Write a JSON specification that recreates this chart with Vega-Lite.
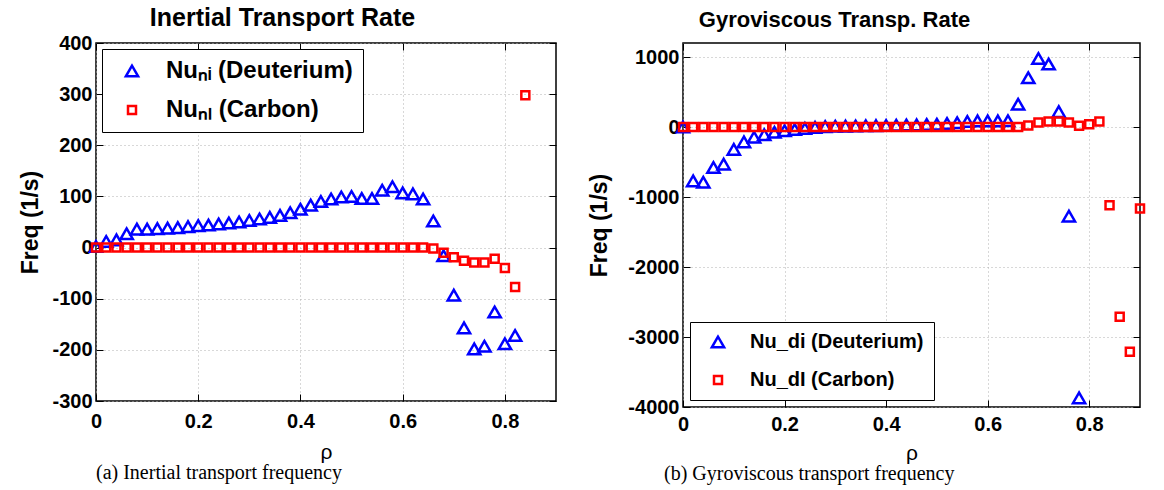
{
  "$schema": "https://vega.github.io/schema/vega-lite/v6.json",
  "background": "white",
  "padding": {"left": 19, "top": 4, "right": 5, "bottom": 5},
  "spacing": 30,
  "config": {
    "font": "Liberation Sans",
    "view": {"stroke": "black", "strokeWidth": 1.5},
    "axis": {
      "labelFont": "Liberation Sans", "labelFontSize": 20, "labelFontWeight": "bold", "labelColor": "black",
      "titleFont": "Liberation Sans", "titleColor": "black",
      "tickColor": "black", "tickSize": -7, "tickWidth": 1, "domain": false,
      "gridColor": "#b0b0b0", "gridDash": [1, 3], "gridWidth": 1,
      "labelFlush": false, "labelOverlap": false
    },
    "axisY": {"titleFontSize": 23, "titleFontWeight": "bold", "titlePadding": 9, "labelPadding": 11},
    "axisX": {"titleFontSize": 21, "titleFontWeight": "normal", "titlePadding": 10, "labelPadding": 17},
    "legend": {
      "fillColor": "white", "strokeColor": "black", "padding": 10,
      "labelFont": "Liberation Sans", "labelFontWeight": "bold", "labelColor": "black",
      "labelLimit": 400, "symbolStrokeWidth": 2.5, "rowPadding": 15, "labelOffset": 22, "symbolOffset": 8
    }
  },
  "datasets": {
    "left": [
      {"rho": 0, "freq": 2, "series": "Nuₙᵢ (Deuterium)"},
      {"rho": 0.02, "freq": 12, "series": "Nuₙᵢ (Deuterium)"},
      {"rho": 0.04, "freq": 15, "series": "Nuₙᵢ (Deuterium)"},
      {"rho": 0.06, "freq": 27, "series": "Nuₙᵢ (Deuterium)"},
      {"rho": 0.08, "freq": 36, "series": "Nuₙᵢ (Deuterium)"},
      {"rho": 0.1, "freq": 36, "series": "Nuₙᵢ (Deuterium)"},
      {"rho": 0.12, "freq": 37, "series": "Nuₙᵢ (Deuterium)"},
      {"rho": 0.14, "freq": 38, "series": "Nuₙᵢ (Deuterium)"},
      {"rho": 0.16, "freq": 39, "series": "Nuₙᵢ (Deuterium)"},
      {"rho": 0.18, "freq": 41, "series": "Nuₙᵢ (Deuterium)"},
      {"rho": 0.2, "freq": 43, "series": "Nuₙᵢ (Deuterium)"},
      {"rho": 0.22, "freq": 44, "series": "Nuₙᵢ (Deuterium)"},
      {"rho": 0.24, "freq": 46, "series": "Nuₙᵢ (Deuterium)"},
      {"rho": 0.26, "freq": 48, "series": "Nuₙᵢ (Deuterium)"},
      {"rho": 0.28, "freq": 50, "series": "Nuₙᵢ (Deuterium)"},
      {"rho": 0.3, "freq": 53, "series": "Nuₙᵢ (Deuterium)"},
      {"rho": 0.32, "freq": 56, "series": "Nuₙᵢ (Deuterium)"},
      {"rho": 0.34, "freq": 59, "series": "Nuₙᵢ (Deuterium)"},
      {"rho": 0.36, "freq": 63, "series": "Nuₙᵢ (Deuterium)"},
      {"rho": 0.38, "freq": 68, "series": "Nuₙᵢ (Deuterium)"},
      {"rho": 0.4, "freq": 75, "series": "Nuₙᵢ (Deuterium)"},
      {"rho": 0.42, "freq": 83, "series": "Nuₙᵢ (Deuterium)"},
      {"rho": 0.44, "freq": 90, "series": "Nuₙᵢ (Deuterium)"},
      {"rho": 0.46, "freq": 95, "series": "Nuₙᵢ (Deuterium)"},
      {"rho": 0.48, "freq": 99, "series": "Nuₙᵢ (Deuterium)"},
      {"rho": 0.5, "freq": 100, "series": "Nuₙᵢ (Deuterium)"},
      {"rho": 0.52, "freq": 96, "series": "Nuₙᵢ (Deuterium)"},
      {"rho": 0.54, "freq": 96, "series": "Nuₙᵢ (Deuterium)"},
      {"rho": 0.56, "freq": 112, "series": "Nuₙᵢ (Deuterium)"},
      {"rho": 0.58, "freq": 119, "series": "Nuₙᵢ (Deuterium)"},
      {"rho": 0.6, "freq": 107, "series": "Nuₙᵢ (Deuterium)"},
      {"rho": 0.62, "freq": 105, "series": "Nuₙᵢ (Deuterium)"},
      {"rho": 0.64, "freq": 95, "series": "Nuₙᵢ (Deuterium)"},
      {"rho": 0.66, "freq": 52, "series": "Nuₙᵢ (Deuterium)"},
      {"rho": 0.68, "freq": -16, "series": "Nuₙᵢ (Deuterium)"},
      {"rho": 0.7, "freq": -93, "series": "Nuₙᵢ (Deuterium)"},
      {"rho": 0.72, "freq": -157, "series": "Nuₙᵢ (Deuterium)"},
      {"rho": 0.74, "freq": -198, "series": "Nuₙᵢ (Deuterium)"},
      {"rho": 0.76, "freq": -193, "series": "Nuₙᵢ (Deuterium)"},
      {"rho": 0.78, "freq": -126, "series": "Nuₙᵢ (Deuterium)"},
      {"rho": 0.8, "freq": -188, "series": "Nuₙᵢ (Deuterium)"},
      {"rho": 0.82, "freq": -172, "series": "Nuₙᵢ (Deuterium)"},
      {"rho": 0, "freq": 0, "series": "Nuₙₗ (Carbon)"},
      {"rho": 0.02, "freq": 0, "series": "Nuₙₗ (Carbon)"},
      {"rho": 0.04, "freq": 0, "series": "Nuₙₗ (Carbon)"},
      {"rho": 0.06, "freq": 0, "series": "Nuₙₗ (Carbon)"},
      {"rho": 0.08, "freq": 0, "series": "Nuₙₗ (Carbon)"},
      {"rho": 0.1, "freq": 0, "series": "Nuₙₗ (Carbon)"},
      {"rho": 0.12, "freq": 0, "series": "Nuₙₗ (Carbon)"},
      {"rho": 0.14, "freq": 0, "series": "Nuₙₗ (Carbon)"},
      {"rho": 0.16, "freq": 0, "series": "Nuₙₗ (Carbon)"},
      {"rho": 0.18, "freq": 0, "series": "Nuₙₗ (Carbon)"},
      {"rho": 0.2, "freq": 0, "series": "Nuₙₗ (Carbon)"},
      {"rho": 0.22, "freq": 0, "series": "Nuₙₗ (Carbon)"},
      {"rho": 0.24, "freq": 0, "series": "Nuₙₗ (Carbon)"},
      {"rho": 0.26, "freq": 0, "series": "Nuₙₗ (Carbon)"},
      {"rho": 0.28, "freq": 0, "series": "Nuₙₗ (Carbon)"},
      {"rho": 0.3, "freq": 0, "series": "Nuₙₗ (Carbon)"},
      {"rho": 0.32, "freq": 0, "series": "Nuₙₗ (Carbon)"},
      {"rho": 0.34, "freq": 0, "series": "Nuₙₗ (Carbon)"},
      {"rho": 0.36, "freq": 0, "series": "Nuₙₗ (Carbon)"},
      {"rho": 0.38, "freq": 0, "series": "Nuₙₗ (Carbon)"},
      {"rho": 0.4, "freq": 0, "series": "Nuₙₗ (Carbon)"},
      {"rho": 0.42, "freq": 0, "series": "Nuₙₗ (Carbon)"},
      {"rho": 0.44, "freq": 0, "series": "Nuₙₗ (Carbon)"},
      {"rho": 0.46, "freq": 0, "series": "Nuₙₗ (Carbon)"},
      {"rho": 0.48, "freq": 0, "series": "Nuₙₗ (Carbon)"},
      {"rho": 0.5, "freq": 0, "series": "Nuₙₗ (Carbon)"},
      {"rho": 0.52, "freq": 0, "series": "Nuₙₗ (Carbon)"},
      {"rho": 0.54, "freq": 0, "series": "Nuₙₗ (Carbon)"},
      {"rho": 0.56, "freq": 0, "series": "Nuₙₗ (Carbon)"},
      {"rho": 0.58, "freq": 0, "series": "Nuₙₗ (Carbon)"},
      {"rho": 0.6, "freq": 0, "series": "Nuₙₗ (Carbon)"},
      {"rho": 0.62, "freq": 0, "series": "Nuₙₗ (Carbon)"},
      {"rho": 0.64, "freq": 0, "series": "Nuₙₗ (Carbon)"},
      {"rho": 0.66, "freq": -2, "series": "Nuₙₗ (Carbon)"},
      {"rho": 0.68, "freq": -10, "series": "Nuₙₗ (Carbon)"},
      {"rho": 0.7, "freq": -19, "series": "Nuₙₗ (Carbon)"},
      {"rho": 0.72, "freq": -26, "series": "Nuₙₗ (Carbon)"},
      {"rho": 0.74, "freq": -29, "series": "Nuₙₗ (Carbon)"},
      {"rho": 0.76, "freq": -29, "series": "Nuₙₗ (Carbon)"},
      {"rho": 0.78, "freq": -22, "series": "Nuₙₗ (Carbon)"},
      {"rho": 0.8, "freq": -40, "series": "Nuₙₗ (Carbon)"},
      {"rho": 0.82, "freq": -77, "series": "Nuₙₗ (Carbon)"},
      {"rho": 0.84, "freq": 298, "series": "Nuₙₗ (Carbon)"}
    ],
    "right": [
      {"rho": 0, "freq": 0, "series": "Nu_di (Deuterium)"},
      {"rho": 0.02, "freq": -770, "series": "Nu_di (Deuterium)"},
      {"rho": 0.04, "freq": -790, "series": "Nu_di (Deuterium)"},
      {"rho": 0.06, "freq": -579, "series": "Nu_di (Deuterium)"},
      {"rho": 0.08, "freq": -531, "series": "Nu_di (Deuterium)"},
      {"rho": 0.1, "freq": -320, "series": "Nu_di (Deuterium)"},
      {"rho": 0.12, "freq": -213, "series": "Nu_di (Deuterium)"},
      {"rho": 0.14, "freq": -147, "series": "Nu_di (Deuterium)"},
      {"rho": 0.16, "freq": -111, "series": "Nu_di (Deuterium)"},
      {"rho": 0.18, "freq": -76, "series": "Nu_di (Deuterium)"},
      {"rho": 0.2, "freq": -52, "series": "Nu_di (Deuterium)"},
      {"rho": 0.22, "freq": -35, "series": "Nu_di (Deuterium)"},
      {"rho": 0.24, "freq": -20, "series": "Nu_di (Deuterium)"},
      {"rho": 0.26, "freq": -5, "series": "Nu_di (Deuterium)"},
      {"rho": 0.28, "freq": 5, "series": "Nu_di (Deuterium)"},
      {"rho": 0.3, "freq": 10, "series": "Nu_di (Deuterium)"},
      {"rho": 0.32, "freq": 12, "series": "Nu_di (Deuterium)"},
      {"rho": 0.34, "freq": 15, "series": "Nu_di (Deuterium)"},
      {"rho": 0.36, "freq": 18, "series": "Nu_di (Deuterium)"},
      {"rho": 0.38, "freq": 20, "series": "Nu_di (Deuterium)"},
      {"rho": 0.4, "freq": 22, "series": "Nu_di (Deuterium)"},
      {"rho": 0.42, "freq": 25, "series": "Nu_di (Deuterium)"},
      {"rho": 0.44, "freq": 28, "series": "Nu_di (Deuterium)"},
      {"rho": 0.46, "freq": 30, "series": "Nu_di (Deuterium)"},
      {"rho": 0.48, "freq": 35, "series": "Nu_di (Deuterium)"},
      {"rho": 0.5, "freq": 40, "series": "Nu_di (Deuterium)"},
      {"rho": 0.52, "freq": 50, "series": "Nu_di (Deuterium)"},
      {"rho": 0.54, "freq": 60, "series": "Nu_di (Deuterium)"},
      {"rho": 0.56, "freq": 78, "series": "Nu_di (Deuterium)"},
      {"rho": 0.58, "freq": 88, "series": "Nu_di (Deuterium)"},
      {"rho": 0.6, "freq": 88, "series": "Nu_di (Deuterium)"},
      {"rho": 0.62, "freq": 88, "series": "Nu_di (Deuterium)"},
      {"rho": 0.64, "freq": 90, "series": "Nu_di (Deuterium)"},
      {"rho": 0.66, "freq": 325, "series": "Nu_di (Deuterium)"},
      {"rho": 0.68, "freq": 704, "series": "Nu_di (Deuterium)"},
      {"rho": 0.7, "freq": 979, "series": "Nu_di (Deuterium)"},
      {"rho": 0.72, "freq": 899, "series": "Nu_di (Deuterium)"},
      {"rho": 0.74, "freq": 220, "series": "Nu_di (Deuterium)"},
      {"rho": 0.76, "freq": -1273, "series": "Nu_di (Deuterium)"},
      {"rho": 0.78, "freq": -3870, "series": "Nu_di (Deuterium)"},
      {"rho": 0, "freq": 0, "series": "Nu_dI (Carbon)"},
      {"rho": 0.02, "freq": 0, "series": "Nu_dI (Carbon)"},
      {"rho": 0.04, "freq": 0, "series": "Nu_dI (Carbon)"},
      {"rho": 0.06, "freq": 0, "series": "Nu_dI (Carbon)"},
      {"rho": 0.08, "freq": 0, "series": "Nu_dI (Carbon)"},
      {"rho": 0.1, "freq": 0, "series": "Nu_dI (Carbon)"},
      {"rho": 0.12, "freq": 0, "series": "Nu_dI (Carbon)"},
      {"rho": 0.14, "freq": 0, "series": "Nu_dI (Carbon)"},
      {"rho": 0.16, "freq": 0, "series": "Nu_dI (Carbon)"},
      {"rho": 0.18, "freq": 0, "series": "Nu_dI (Carbon)"},
      {"rho": 0.2, "freq": 0, "series": "Nu_dI (Carbon)"},
      {"rho": 0.22, "freq": 0, "series": "Nu_dI (Carbon)"},
      {"rho": 0.24, "freq": 0, "series": "Nu_dI (Carbon)"},
      {"rho": 0.26, "freq": 0, "series": "Nu_dI (Carbon)"},
      {"rho": 0.28, "freq": 0, "series": "Nu_dI (Carbon)"},
      {"rho": 0.3, "freq": 0, "series": "Nu_dI (Carbon)"},
      {"rho": 0.32, "freq": 0, "series": "Nu_dI (Carbon)"},
      {"rho": 0.34, "freq": 0, "series": "Nu_dI (Carbon)"},
      {"rho": 0.36, "freq": 0, "series": "Nu_dI (Carbon)"},
      {"rho": 0.38, "freq": 0, "series": "Nu_dI (Carbon)"},
      {"rho": 0.4, "freq": 0, "series": "Nu_dI (Carbon)"},
      {"rho": 0.42, "freq": 0, "series": "Nu_dI (Carbon)"},
      {"rho": 0.44, "freq": 0, "series": "Nu_dI (Carbon)"},
      {"rho": 0.46, "freq": 0, "series": "Nu_dI (Carbon)"},
      {"rho": 0.48, "freq": 0, "series": "Nu_dI (Carbon)"},
      {"rho": 0.5, "freq": 0, "series": "Nu_dI (Carbon)"},
      {"rho": 0.52, "freq": 0, "series": "Nu_dI (Carbon)"},
      {"rho": 0.54, "freq": 0, "series": "Nu_dI (Carbon)"},
      {"rho": 0.56, "freq": 0, "series": "Nu_dI (Carbon)"},
      {"rho": 0.58, "freq": 0, "series": "Nu_dI (Carbon)"},
      {"rho": 0.6, "freq": 0, "series": "Nu_dI (Carbon)"},
      {"rho": 0.62, "freq": 0, "series": "Nu_dI (Carbon)"},
      {"rho": 0.64, "freq": 0, "series": "Nu_dI (Carbon)"},
      {"rho": 0.66, "freq": 0, "series": "Nu_dI (Carbon)"},
      {"rho": 0.68, "freq": 20, "series": "Nu_dI (Carbon)"},
      {"rho": 0.7, "freq": 64, "series": "Nu_dI (Carbon)"},
      {"rho": 0.72, "freq": 78, "series": "Nu_dI (Carbon)"},
      {"rho": 0.74, "freq": 78, "series": "Nu_dI (Carbon)"},
      {"rho": 0.76, "freq": 64, "series": "Nu_dI (Carbon)"},
      {"rho": 0.78, "freq": 17, "series": "Nu_dI (Carbon)"},
      {"rho": 0.8, "freq": 40, "series": "Nu_dI (Carbon)"},
      {"rho": 0.82, "freq": 78, "series": "Nu_dI (Carbon)"},
      {"rho": 0.84, "freq": -1117, "series": "Nu_dI (Carbon)"},
      {"rho": 0.86, "freq": -2710, "series": "Nu_dI (Carbon)"},
      {"rho": 0.88, "freq": -3210, "series": "Nu_dI (Carbon)"},
      {"rho": 0.9, "freq": -1164, "series": "Nu_dI (Carbon)"}
    ]
  },
  "resolve": {"scale": {"color": "independent", "shape": "independent", "size": "independent"}, "legend": {"color": "independent", "shape": "independent", "size": "independent"}},
  "hconcat": [
    {
      "width": 460,
      "height": 358,
      "data": {"name": "left"},
      "title": {"text": "(a) Inertial transport frequency", "orient": "bottom", "anchor": "start", "frame": "group", "font": "Liberation Serif", "fontSize": 20, "fontWeight": "normal", "color": "black", "offset": 1},
      "resolve": {"axis": {"x": "independent", "y": "independent"}},
      "layer": [
        {
          "mark": {"type": "point", "filled": false, "strokeWidth": 2.5, "opacity": 1},
          "encoding": {
            "x": {"field": "rho", "type": "quantitative", "scale": {"domain": [0, 0.9], "nice": false, "zero": false},
                  "axis": {"values": [0, 0.2, 0.4, 0.6, 0.8], "title": "ρ", "labelExpr": "'' + datum.value"}},
            "y": {"field": "freq", "type": "quantitative", "scale": {"domain": [-300, 400], "nice": false},
                  "axis": {"values": [-300, -200, -100, 0, 100, 200, 300, 400], "title": "Freq (1/s)", "labelExpr": "'' + datum.value"}},
            "color": {"field": "series", "type": "nominal", "scale": {"domain": ["Nuₙᵢ (Deuterium)", "Nuₙₗ (Carbon)"], "range": ["#0000ff", "#ff0000"]},
                      "legend": {"title": null, "orient": "top-left", "offset": 6, "labelFontSize": 24}},
            "shape": {"field": "series", "type": "nominal", "scale": {"domain": ["Nuₙᵢ (Deuterium)", "Nuₙₗ (Carbon)"], "range": ["triangle-up", "square"]},
                      "legend": {"title": null, "orient": "top-left", "offset": 6, "labelFontSize": 24}},
            "size": {"field": "series", "type": "nominal", "scale": {"domain": ["Nuₙᵢ (Deuterium)", "Nuₙₗ (Carbon)"], "range": [150, 64]},
                     "legend": {"title": null, "orient": "top-left", "offset": 6, "labelFontSize": 24}}
          }
        },
        {
          "mark": {"type": "point", "opacity": 0},
          "encoding": {
            "x": {"field": "rho", "type": "quantitative",
                  "axis": {"orient": "top", "values": [0, 0.2, 0.4, 0.6, 0.8], "labels": false, "grid": false,
                           "title": "Inertial Transport Rate", "titleFontSize": 25, "titleFontWeight": "bold", "titlePadding": 12, "titleX": 186, "titleAlign": "center"}},
            "y": {"field": "freq", "type": "quantitative",
                  "axis": {"orient": "right", "values": [-300, -200, -100, 0, 100, 200, 300, 400], "labels": false, "grid": false, "title": null}}
          }
        }
      ]
    },
    {
      "width": 457,
      "height": 364,
      "data": {"name": "right"},
      "title": {"text": "(b) Gyroviscous transport frequency", "orient": "bottom", "anchor": "start", "frame": "group", "font": "Liberation Serif", "fontSize": 20, "fontWeight": "normal", "color": "black", "offset": 1, "dx": -19},
      "resolve": {"axis": {"x": "independent", "y": "independent"}},
      "layer": [
        {
          "mark": {"type": "point", "filled": false, "strokeWidth": 2.5, "opacity": 1},
          "encoding": {
            "x": {"field": "rho", "type": "quantitative", "scale": {"domain": [0, 0.9], "nice": false, "zero": false},
                  "axis": {"values": [0, 0.2, 0.4, 0.6, 0.8], "title": "ρ", "labelExpr": "'' + datum.value", "labelPadding": 14, "titlePadding": 8}},
            "y": {"field": "freq", "type": "quantitative", "scale": {"domain": [-4000, 1200], "nice": false},
                  "axis": {"values": [-4000, -3000, -2000, -1000, 0, 1000], "title": "Freq (1/s)", "titlePadding": 16, "labelExpr": "'' + datum.value"}},
            "color": {"field": "series", "type": "nominal", "scale": {"domain": ["Nu_di (Deuterium)", "Nu_dI (Carbon)"], "range": ["#0000ff", "#ff0000"]},
                      "legend": {"title": null, "orient": "bottom-left", "offset": 7, "labelFontSize": 20, "rowPadding": 17}},
            "shape": {"field": "series", "type": "nominal", "scale": {"domain": ["Nu_di (Deuterium)", "Nu_dI (Carbon)"], "range": ["triangle-up", "square"]},
                      "legend": {"title": null, "orient": "bottom-left", "offset": 7, "labelFontSize": 20, "rowPadding": 17}},
            "size": {"field": "series", "type": "nominal", "scale": {"domain": ["Nu_di (Deuterium)", "Nu_dI (Carbon)"], "range": [150, 64]},
                     "legend": {"title": null, "orient": "bottom-left", "offset": 7, "labelFontSize": 20, "rowPadding": 17}}
          }
        },
        {
          "mark": {"type": "point", "opacity": 0},
          "encoding": {
            "x": {"field": "rho", "type": "quantitative",
                  "axis": {"orient": "top", "values": [0, 0.2, 0.4, 0.6, 0.8], "labels": false, "grid": false,
                           "title": "Gyroviscous Transp. Rate", "titleFontSize": 22, "titleFontWeight": "bold", "titlePadding": 11, "titleX": 151, "titleAlign": "center"}},
            "y": {"field": "freq", "type": "quantitative",
                  "axis": {"orient": "right", "values": [-4000, -3000, -2000, -1000, 0, 1000], "labels": false, "grid": false, "title": null}}
          }
        }
      ]
    }
  ]
}
